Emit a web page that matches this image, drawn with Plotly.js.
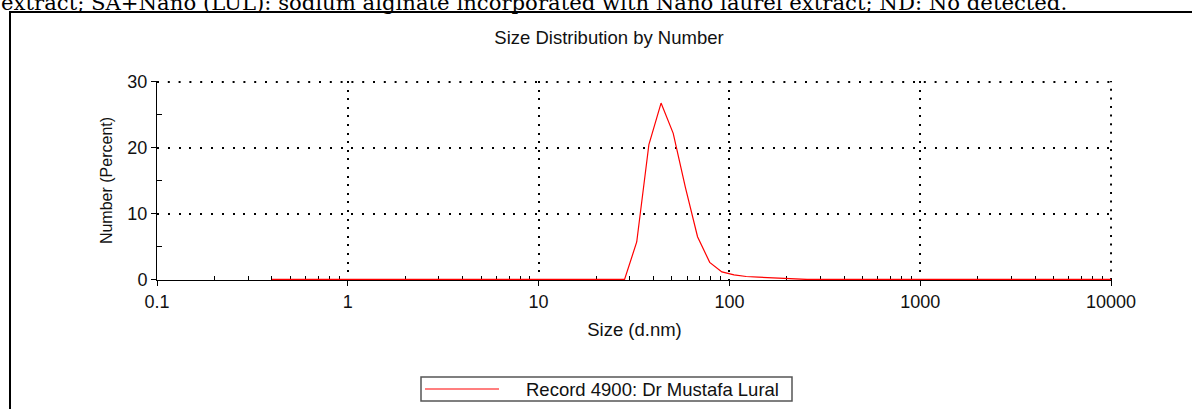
<!DOCTYPE html>
<html>
<head>
<meta charset="utf-8">
<script src="https://cdn.plot.ly/plotly-3.0.1.min.js"></script>
<style>
  html, body { margin: 0; padding: 0; background: #fff; }
  #chart { width: 1192px; height: 409px; }
</style>
</head>
<body>
<div id="chart"></div>
<script>
// ---- data ----
const sizesNm = [0.4, 0.4632, 0.5365, 0.6213, 0.7195, 0.8332, 0.9649, 1.117, 1.294, 1.499,
  1.736, 2.010, 2.328, 2.696, 3.122, 3.615, 4.187, 4.849, 5.615, 6.503,
  7.531, 8.721, 10.10, 11.70, 13.54, 15.69, 18.17, 21.04, 24.36, 28.21,
  32.67, 37.84, 43.82, 50.75, 58.77, 68.06, 78.82, 91.28, 105.7, 122.4,
  141.8, 164.2, 190.1, 220.2, 255.0, 295.3, 342.0, 396.1, 458.7, 531.2,
  615.1, 712.4, 825.0, 955.4, 1106, 1281, 1484, 1718, 1990, 2305,
  2669, 3091, 3580, 4145, 4801, 5560, 6439, 7456, 8635, 10000];
const numberPercent = [0, 0, 0, 0, 0, 0, 0, 0, 0, 0,
  0, 0, 0, 0, 0, 0, 0, 0, 0, 0,
  0, 0, 0, 0, 0, 0, 0, 0, 0, 0,
  5.7, 20.5, 26.8, 22.2, 14.0, 6.5, 2.6, 1.15, 0.7, 0.45,
  0.35, 0.25, 0.2, 0.15, 0, 0, 0, 0, 0, 0,
  0, 0, 0, 0, 0, 0, 0, 0, 0, 0,
  0, 0, 0, 0, 0, 0, 0, 0, 0, 0];
const seriesName = 'Record 4900: Dr Mustafa Lural';
const xTickVals = [0.1, 1, 10, 100, 1000, 10000];
const xTickText = ['0.1', '1', '10', '100', '1000', '10000'];
const yTickVals = [0, 10, 20, 30];
const yTickText = ['0', '10', '20', '30'];
const yMinorVals = [5, 15, 25];
const decades = [0.1, 1, 10, 100, 1000];
const digits = [2, 3, 4, 5, 6, 7, 8, 9];
const chartTitle = 'Size Distribution by Number';
const xTitle = 'Size (d.nm)';
const yTitle = 'Number (Percent)';
const captionText = 'extract; SA+Nano (LUL): sodium alginate incorporated with Nano laurel extract; ND: No detected.';

// ---- layout helpers ----
const W = 1192, H = 409;
const M = { l: 157, r: 80, t: 81, b: 129 };
const PW = W - M.l - M.r, PH = H - M.t - M.b;
const px = x => (x - M.l) / PW;          // pixel x -> paper
const py = y => (H - M.b - y) / PH;      // pixel y -> paper

const xMinorVals = [];
decades.forEach(d => digits.forEach(k => xMinorVals.push(d * k)));

const sans = 'Liberation Sans, Arial, sans-serif';
const txt = '#111';
const xDash = '2px,6.6px', yDash = '2px,8.8px';

const trace = {
  x: sizesNm, y: numberPercent, type: 'scatter', mode: 'lines',
  name: seriesName, line: { color: '#ff0000', width: 1.2 }, showlegend: false,
  hoverinfo: 'x+y'
};

const xMax = xTickVals[xTickVals.length - 1];
const yMax = yTickVals[yTickVals.length - 1];

const layout = {
  width: W, height: H,
  margin: M,
  paper_bgcolor: '#fff', plot_bgcolor: '#fff',
  font: { family: sans, size: 18, color: txt },
  title: { text: chartTitle, x: 609 / W, xref: 'container', xanchor: 'center',
           y: 1 - 38 / H, yref: 'container', yanchor: 'middle',
           font: { family: sans, size: 18.5, color: txt } },
  xaxis: {
    type: 'log', range: [-1, 4.005], tickmode: 'array', tickvals: xTickVals, ticktext: xTickText,
    ticks: 'outside', ticklen: 5, tickwidth: 1, tickcolor: '#000',
    showline: true, linecolor: '#000', linewidth: 1, layer: 'below traces',
    showgrid: true, gridcolor: '#000', gridwidth: 2, griddash: xDash,
    zeroline: false, tickfont: { family: sans, size: 18, color: txt },
    minor: { tickvals: xMinorVals, ticks: 'inside', ticklen: 4, tickwidth: 1, tickcolor: '#000', showgrid: false },
    title: { text: xTitle, standoff: 12, font: { family: sans, size: 18.5, color: txt } },
    automargin: false, fixedrange: true
  },
  yaxis: {
    range: [-0.08, 30.15], tickmode: 'array', tickvals: yTickVals, ticktext: yTickText,
    ticks: 'outside', ticklen: 5, tickwidth: 1, tickcolor: '#000',
    showline: true, linecolor: '#000', linewidth: 1, layer: 'below traces',
    showgrid: true, gridcolor: '#000', gridwidth: 2, griddash: yDash,
    zeroline: false, tickfont: { family: sans, size: 18, color: txt },
    minor: { tickvals: yMinorVals, ticks: 'inside', ticklen: 5, tickwidth: 1, tickcolor: '#000', showgrid: false },
    title: { text: yTitle, standoff: 10, font: { family: sans, size: 16, color: txt } },
    automargin: false, fixedrange: true
  },
  shapes: [
    // edge gridlines (Plotly omits gridlines at the plot edges)
    { type: 'line', xref: 'x', yref: 'paper', x0: xMax, x1: xMax, y0: 0, y1: 1,
      line: { color: '#000', width: 2, dash: xDash }, layer: 'below' },
    { type: 'line', xref: 'paper', yref: 'y', x0: 0, x1: 1, y0: yMax, y1: yMax,
      line: { color: '#000', width: 2, dash: yDash }, layer: 'below' },
    // outer frame of the figure
    { type: 'rect', xref: 'paper', yref: 'paper', x0: px(10), x1: px(1230), y0: py(12), y1: py(440),
      line: { color: '#000', width: 2 }, fillcolor: 'rgba(0,0,0,0)', layer: 'below' },
    // legend box
    { type: 'rect', xref: 'paper', yref: 'paper', x0: px(421), x1: px(792), y0: py(377), y1: py(401),
      line: { color: '#555', width: 1.5 }, fillcolor: '#fff', layer: 'above' },
    // legend sample line
    { type: 'line', xref: 'paper', yref: 'paper', x0: px(425), x1: px(499), y0: py(389), y1: py(389),
      line: { color: '#ff0000', width: 1.2 }, layer: 'above' }
  ],
  annotations: [
    { text: seriesName, xref: 'paper', yref: 'paper', x: px(524), y: py(389.5),
      xanchor: 'left', yanchor: 'middle', showarrow: false,
      font: { family: sans, size: 18.5, color: txt } },
    { text: captionText, xref: 'paper', yref: 'paper', x: px(-1), y: py(17),
      xanchor: 'left', yanchor: 'bottom', showarrow: false,
      font: { family: 'DejaVu Serif, serif', size: 21.2, color: '#000' } }
  ]
};

Plotly.newPlot('chart', [trace], layout, { displayModeBar: false, staticPlot: true });
</script>
</body>
</html>
